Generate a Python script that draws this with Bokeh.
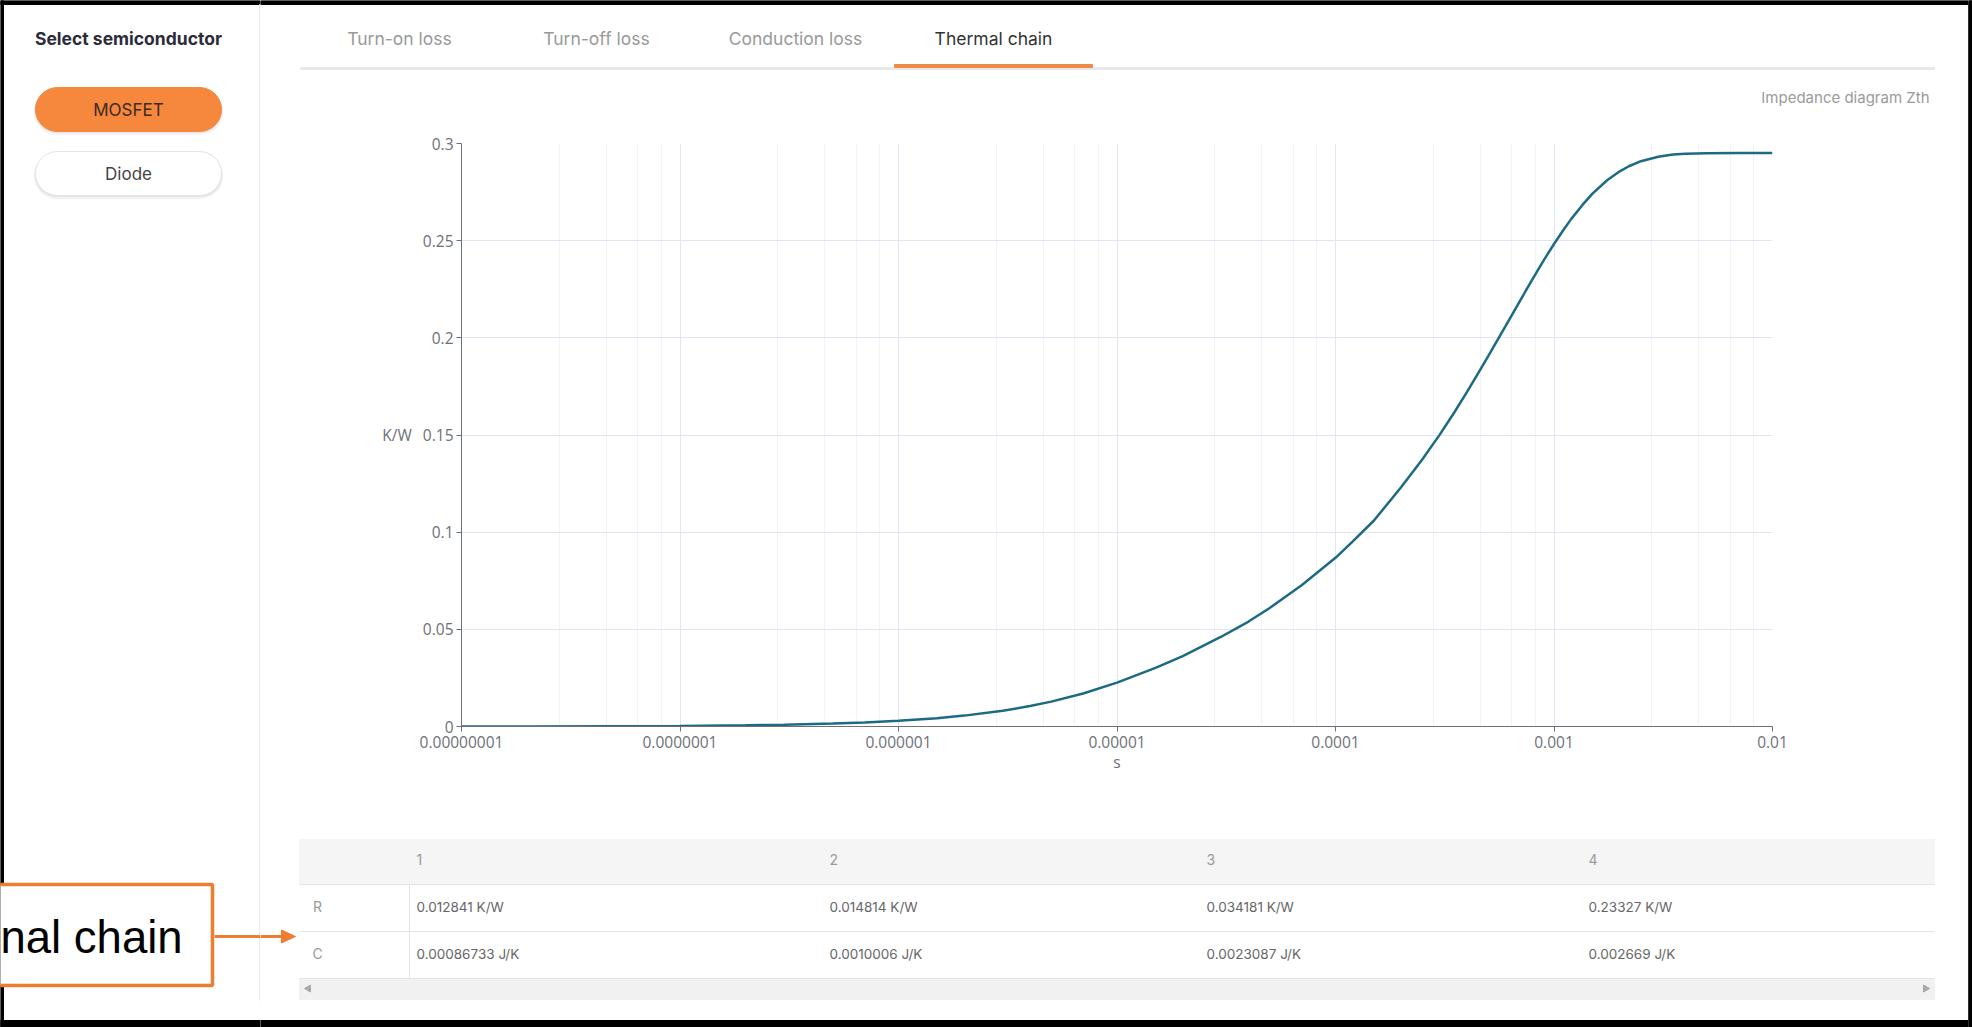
from bokeh.plotting import figure
from bokeh.models import Range1d, FixedTicker, CustomJSTickFormatter
from bokeh.layouts import row, column
from bokeh.core.properties import value
from bokeh.embed import file_html
from bokeh.resources import INLINE

# ---------------- data ----------------
time_s = [1e-8, 2e-8, 5e-8, 1e-7, 2e-7, 3e-7, 5e-7, 7e-7, 1e-6, 1.5e-6, 2e-6, 3e-6, 4e-6,
          5e-6, 7e-6, 1e-5, 1.5e-5, 2e-5, 3e-5, 4e-5, 5e-5, 7e-5, 1e-4, 1.2e-4, 1.5e-4,
          2e-4, 2.5e-4, 3e-4, 3.5e-4, 4e-4, 4.5e-4, 5e-4, 6e-4, 7e-4, 8e-4, 9e-4, 1e-3,
          1.1e-3, 1.2e-3, 1.35e-3, 1.5e-3, 1.75e-3, 2e-3, 2.2e-3, 2.5e-3, 3e-3, 3.5e-3,
          4e-3, 5e-3, 7e-3, 1e-2]
zth_kw = [0.00003, 0.00006, 0.00015, 0.0003, 0.0006, 0.0009, 0.0015, 0.0021, 0.0029, 0.0043,
          0.0056, 0.0081, 0.0105, 0.0128, 0.0170, 0.0226, 0.0302, 0.0362, 0.0462, 0.0540,
          0.0610, 0.0727, 0.0868, 0.0953, 0.1060, 0.1232, 0.1375, 0.1502, 0.1617, 0.1722,
          0.1818, 0.1906, 0.2060, 0.2192, 0.2305, 0.2401, 0.2483, 0.2552, 0.2612, 0.2684,
          0.2742, 0.2811, 0.2857, 0.2883, 0.2909, 0.2932, 0.2943, 0.2947, 0.2950, 0.2951,
          0.2951]

x_ticks = [1e-8, 1e-7, 1e-6, 1e-5, 1e-4, 1e-3, 1e-2]
x_tick_labels = ["0.00000001", "0.0000001", "0.000001", "0.00001", "0.0001", "0.001", "0.01"]
y_ticks = [0, 0.05, 0.1, 0.15, 0.2, 0.25, 0.3]
y_tick_labels = ["0", "0.05", "0.1", "0.15", "0.2", "0.25", "0.3"]
minor_factors = [2.8, 4.6, 6.4, 8.2]

stages = ["1", "2", "3", "4"]
r_kw = [0.012841, 0.014814, 0.034181, 0.23327]
c_jk = [0.00086733, 0.0010006, 0.0023087, 0.002669]

tabs = ["Turn-on loss", "Turn-off loss", "Conduction loss", "Thermal chain"]
active_tab = "Thermal chain"
semiconductors = ["MOSFET", "Diode"]
active_semi = "MOSFET"

UI_FONT = value("Inter")
ORANGE = "#f5883c"
CALLOUT = "#ed7d31"


def no_align(p):
    try:
        p.frame_align = False
    except Exception:
        pass


def canvas(w, h, bg="white"):
    p = figure(width=w, height=h, x_range=Range1d(0, w), y_range=Range1d(h, 0),
               x_axis_location=None, y_axis_location=None, toolbar_location=None,
               tools="", output_backend="svg", min_border=0)
    p.outline_line_color = None
    p.background_fill_color = bg
    p.border_fill_color = bg
    p.grid.visible = False
    no_align(p)
    return p


W, H = 1972, 1027
SW = 260
EW = 4
MW = W - SW - EW  # 1708

# ---------------- sidebar ----------------
side = canvas(SW, H)
side.quad(left=[0], right=[3], top=[0], bottom=[H], color="black")
side.quad(left=[0], right=[SW], top=[0], bottom=[4], color="black")
side.quad(left=[0], right=[SW], top=[H - 7], bottom=[H], color="black")
side.quad(left=[259], right=[260], top=[4], bottom=[1000], color="#ececec")
side.text(x=[128], y=[38], text=["Select semiconductor"], text_font=UI_FONT,
          text_font_size=value("17.5px"), text_font_style="bold", text_color="#2b2b3b",
          text_align="center", text_baseline="middle")
for i, name in enumerate(semiconductors):
    top = 87 + i * 64
    bot = top + 44
    for k, a in [(4, 0.035), (2, 0.06)]:
        side.quad(left=[35 - k / 2], right=[221 + k / 2], top=[top + 1], bottom=[bot + k],
                  fill_color="black", fill_alpha=a, line_color=None, border_radius=24)
    act = name == active_semi
    side.quad(left=[35], right=[221], top=[top], bottom=[bot],
              fill_color=ORANGE if act else "white",
              line_color=ORANGE if act else "#e4e4e4", line_width=1, border_radius=22)
    side.text(x=[128], y=[(top + bot) / 2], text=[name], text_font=UI_FONT,
              text_font_size=value("17px"), text_color="#3b2a1f" if act else "#444444",
              text_align="center", text_baseline="middle")

# callout box
side.quad(left=[-10], right=[212], top=[884], bottom=[985], fill_color="white",
          line_color=CALLOUT, line_width=3.5)
side.text(x=[0], y=[937], text=["nal chain"], text_font=value("Liberation Sans"),
          text_font_size=value("45.5px"), text_color="black", text_align="left",
          text_baseline="middle")
side.line(x=[214, 260], y=[936, 936], line_color=CALLOUT, line_width=3)

# ---------------- main column ----------------
# tabs strip
TBH = 110
tabs_fig = canvas(MW, TBH)
tabs_fig.quad(left=[0], right=[MW], top=[0], bottom=[4], color="black")
tab_x = [139, 336, 535, 733]
tabs_fig.text(x=tab_x, y=[38] * len(tabs), text=tabs, text_font=UI_FONT,
              text_font_size=value("17.5px"),
              text_color=["#333333" if t == active_tab else "#999999" for t in tabs],
              text_align="center", text_baseline="middle")
tabs_fig.quad(left=[40], right=[1674], top=[67], bottom=[69], color="#e8e8e8")
ai = tabs.index(active_tab)
tabs_fig.quad(left=[tab_x[ai] - 99], right=[tab_x[ai] + 99], top=[64], bottom=[67],
              color="#ee8a4a")
tabs_fig.text(x=[1669], y=[97], text=["Impedance diagram Zth"], text_font=UI_FONT,
              text_font_size=value("15px"), text_color="#9a9a9a", text_align="right",
              text_baseline="middle")

# chart
CH = 700
chart = figure(width=MW, height=CH, x_axis_type="log",
               x_range=Range1d(x_ticks[0], x_ticks[-1]), y_range=Range1d(y_ticks[0], y_ticks[-1]),
               toolbar_location=None, tools="", output_backend="svg",
               min_border_left=201, min_border_right=196, min_border_top=33,
               min_border_bottom=84)
no_align(chart)
chart.outline_line_color = None
minor = [f * t for t in x_ticks[:-1] for f in minor_factors]
xt = FixedTicker(ticks=x_ticks, minor_ticks=minor)
yt = FixedTicker(ticks=y_ticks)
chart.xaxis.ticker = xt
chart.xgrid.ticker = xt
chart.yaxis.ticker = yt
chart.ygrid.ticker = yt
chart.xaxis.formatter = CustomJSTickFormatter(args=dict(tvals=x_ticks, tlabels=x_tick_labels), code="""
let best = 0, bd = Infinity;
for (let i = 0; i < tvals.length; i++) {
  const d = Math.abs(Math.log10(tvals[i]) - Math.log10(tick));
  if (d < bd) { bd = d; best = i; }
}
return tlabels[best];
""")
chart.yaxis.formatter = CustomJSTickFormatter(args=dict(tvals=y_ticks, tlabels=y_tick_labels), code="""
let best = 0, bd = Infinity;
for (let i = 0; i < tvals.length; i++) {
  const d = Math.abs(tvals[i] - tick);
  if (d < bd) { bd = d; best = i; }
}
return tlabels[best];
""")
chart.xgrid.grid_line_color = "#e0e6f1"
chart.ygrid.grid_line_color = "#e0e6f1"
chart.xgrid.minor_grid_line_color = "#f1f3f7"
chart.ygrid.minor_grid_line_color = None
for ax in chart.axis:
    ax.axis_line_color = "#6e7079"
    ax.major_tick_line_color = "#6e7079"
    ax.major_tick_out = 5
    ax.major_tick_in = 0
    ax.minor_tick_line_color = None
    ax.major_label_text_color = "#6e7079"
    ax.major_label_text_font = "Open Sans"
    ax.major_label_text_font_size = "15.5px"
    ax.axis_label_text_color = "#6e7079"
    ax.axis_label_text_font = "Open Sans"
    ax.axis_label_text_font_size = "15.5px"
    ax.axis_label_text_font_style = "normal"
chart.xaxis.major_label_standoff = 4
chart.yaxis.major_label_standoff = 3
chart.yaxis.axis_label = "K/W"
chart.yaxis.axis_label_orientation = "horizontal"
chart.yaxis.axis_label_standoff = 8
chart.xaxis.axis_label = "s"
chart.xaxis.axis_label_standoff = 0
chart.line(time_s, zth_kw, line_color="#1c6b82", line_width=2.5)

# table
TH = H - TBH - CH  # 217
table = canvas(MW, TH)
table.quad(left=[0], right=[MW], top=[TH - 7], bottom=[TH], color="black")
table.quad(left=[39], right=[1674], top=[29], bottom=[74], color="#f5f5f5")
table.quad(left=[39], right=[1674], top=[168], bottom=[189], color="#f1f1f1")
for yy in [74, 121, 168]:
    table.line(x=[39, 1674], y=[yy, yy], line_color="#e4e4e4", line_width=1)
table.line(x=[149, 149], y=[74, 168], line_color="#e4e4e4", line_width=1)
col_x = [156, 569, 946, 1328]
table.text(x=col_x, y=[49] * 4, text=stages, text_font=UI_FONT, text_font_size=value("14px"),
           text_color="#9a9a9a", text_baseline="middle")
table.text(x=[57, 57], y=[96, 143], text=["R", "C"], text_font=UI_FONT,
           text_font_size=value("14px"), text_color="#9a9a9a", text_align="center",
           text_baseline="middle")
table.text(x=col_x, y=[96] * 4, text=[f"{v} K/W" for v in r_kw], text_font=UI_FONT,
           text_font_size=value("13.5px"), text_color="#666666", text_baseline="middle")
table.text(x=col_x, y=[143] * 4, text=[f"{v} J/K" for v in c_jk], text_font=UI_FONT,
           text_font_size=value("13.5px"), text_color="#666666", text_baseline="middle")
table.scatter(x=[48, 1665], y=[178, 178], marker="triangle", size=7,
              angle=[1.5708, -1.5708], color="#a8a8a8")
# arrow continuation
table.line(x=[0, 24], y=[126, 126], line_color=CALLOUT, line_width=3)
table.patch(x=[21, 35, 21], y=[119.5, 126, 132.5], color=CALLOUT)

edge = canvas(EW, H, bg="black")
edge.quad(left=[0], right=[EW], top=[0], bottom=[H], color="black")

layout = row(side, column(tabs_fig, chart, table), edge)
open("out.html", "w").write(file_html(layout, INLINE))
